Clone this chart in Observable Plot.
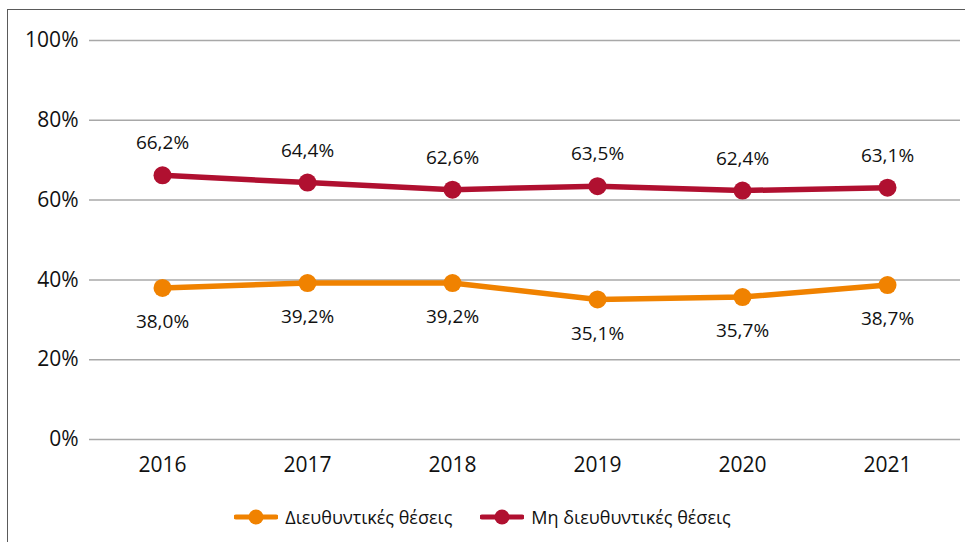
<!DOCTYPE html>
<html>
<head>
<meta charset="utf-8">
<script src="https://cdn.jsdelivr.net/npm/d3@7"></script>
<script src="https://cdn.jsdelivr.net/npm/@observablehq/plot@0.6"></script>
<style>
  body { margin: 0; background: #fff; font-family: "Open Sans", sans-serif; }
  #wrap { position: relative; width: 965px; height: 542px; overflow: hidden; }
  #frame { position: absolute; left: 7px; top: 9px; width: 1000px; height: 600px;
           border-left: 1.5px solid #5a5a5a; border-top: 1.5px solid #5a5a5a; box-sizing: border-box; }
  #chart { position: absolute; left: 0; top: 0; }
  #legend { position: absolute; left: 0; top: 502px; width: 965px; height: 30px;
            display: flex; justify-content: center; align-items: center; gap: 28px;
            font-size: 18px; color: #111; box-sizing: border-box; }
  .item { display: flex; align-items: center; gap: 7px; }
</style>
</head>
<body>
<div id="wrap">
  <div id="frame"></div>
  <div id="chart"></div>
  <div id="legend"></div>
</div>
<script>
const years = ["2016", "2017", "2018", "2019", "2020", "2021"];
const seriesNames = ["Διευθυντικές θέσεις", "Μη διευθυντικές θέσεις"];
const managerial = [38.0, 39.2, 39.2, 35.1, 35.7, 38.7];
const nonManagerial = [66.2, 64.4, 62.6, 63.5, 62.4, 63.1];
const yTicks = [0, 20, 40, 60, 80, 100];
const colors = ["#F08200", "#B01030"];

const data = [];
years.forEach((y, i) => {
  data.push({year: y, value: managerial[i], series: seriesNames[0]});
  data.push({year: y, value: nonManagerial[i], series: seriesNames[1]});
});
const fmt = v => d3.format(".1f")(v).replace(".", ",") + "%";

const plot = Plot.plot({
  width: 965,
  height: 480,
  marginLeft: 89,
  marginRight: 5,
  marginTop: 40,
  marginBottom: 41,
  style: {fontFamily: "Open Sans, sans-serif", fontSize: "20px", color: "#111", background: "transparent"},
  x: {type: "point", domain: years, padding: 0.5, label: null},
  y: {domain: [0, 100], ticks: yTicks, label: null},
  color: {domain: seriesNames, range: colors},
  marks: [
    Plot.gridY(yTicks, {stroke: "#a8a8a8", strokeOpacity: 1, strokeWidth: 1.5}),
    Plot.axisY(yTicks, {tickSize: 0, tickPadding: 11, tickFormat: d => d + "%", fontSize: 21, fill: "#111"}),
    Plot.axisX(years, {tickSize: 0, tickPadding: 18, fontSize: 21, fill: "#111"}),
    Plot.line(data, {x: "year", y: "value", z: "series", stroke: "series", strokeWidth: 5.5}),
    Plot.dot(data, {x: "year", y: "value", fill: "series", r: 9}),
    Plot.text(data.filter(d => d.series === seriesNames[1]), {x: "year", y: "value", text: d => fmt(d.value), dy: -32, fontSize: 19, fill: "#111"}),
    Plot.text(data.filter(d => d.series === seriesNames[0]), {x: "year", y: "value", text: d => fmt(d.value), dy: 34, fontSize: 19, fill: "#111"})
  ]
});
document.getElementById("chart").appendChild(plot);

const legend = document.getElementById("legend");
seriesNames.forEach((name, i) => {
  const item = document.createElement("div");
  item.className = "item";
  item.innerHTML = `<svg width="44" height="20"><line x1="2" y1="10" x2="42" y2="10" stroke="${colors[i]}" stroke-width="5" stroke-linecap="round"/><circle cx="22" cy="10" r="7.5" fill="${colors[i]}"/></svg><span>${name}</span>`;
  legend.appendChild(item);
});
</script>
</body>
</html>
